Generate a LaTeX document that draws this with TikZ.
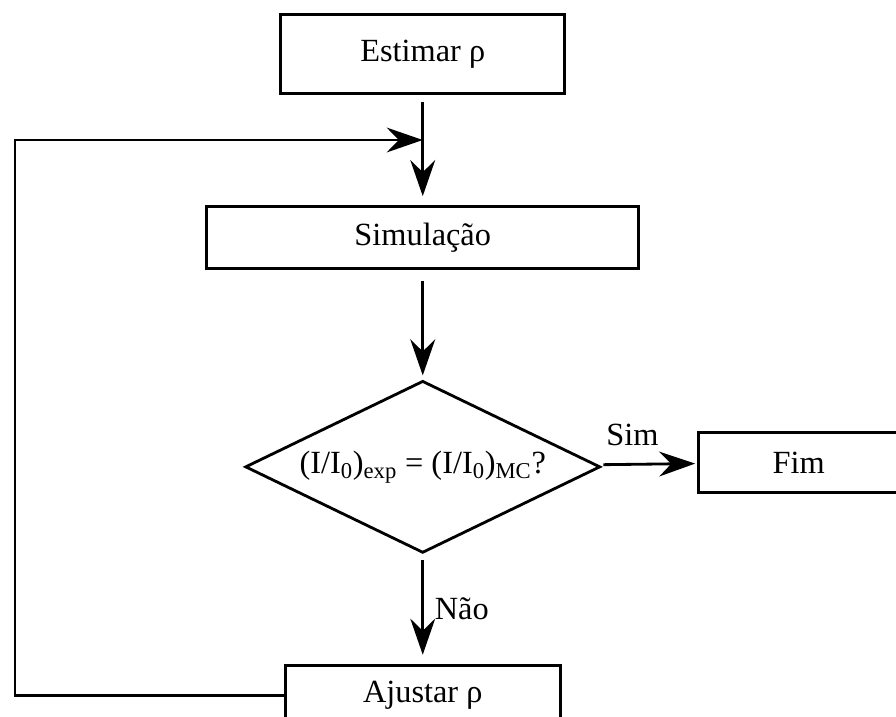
\documentclass[tikz,border=0pt]{standalone}
\usepackage{fontspec}
\setmainfont{Liberation Serif}
\usetikzlibrary{matrix, calc, arrows.meta, shapes.geometric}
\tikzset{
	box/.style 2 args={
		draw, line width=2pt, inner sep=0pt,
		minimum width=#1, minimum height=#2
	},
	decision/.style 2 args={
		draw, diamond, aspect=2.06, line width=2pt, inner sep=0pt,
		minimum width=#1, minimum height=#2
	},
	flow/.style={
		line width=2pt,
		-{Stealth[length=0.9cm, width=0.62cm, inset=0.3cm]}
	}
}

\begin{document}
\begin{tikzpicture}[x=0.025cm, y=-0.025cm, font=\fontsize{23}{28}\selectfont]
	\useasboundingbox (0,0) rectangle (896,717);
	\matrix[matrix of nodes, ampersand replacement=\&, column sep=1.425cm, row sep=2.75cm, inner sep=0pt, anchor=north west](m) at (205,13)
	{
		|[box={7.1cm}{1.975cm}]| Estimar ρ \& \\
		|[box={10.8cm}{1.55cm}]| Simulação \& \\
		|[decision={8.875cm}{4.3cm}]| (I/I\textsubscript{0})\textsubscript{exp} = (I/I\textsubscript{0})\textsubscript{MC}? \& |[box={5cm}{1.5cm}]| Fim \\
		|[box={6.875cm}{1.5cm}]| Ajustar ρ \& \\
	};
	\draw[flow]
	(m-1-1) edge[shorten <=0.175cm, shorten >=0.225cm] (m-2-1)
	(m-2-1) edge[shorten <=0.275cm, shorten >=0.1cm] (m-3-1)
	(m-3-1) edge[shorten <=0.15cm, shorten >=0.05cm] node[above=0.3cm, pos=0.35] {Sim} (m-3-2)
	(m-3-1) edge[shorten <=0.15cm, shorten >=0.225cm] node[right, xshift=0.15cm, pos=0.5] {Não} (m-4-1)
	;
	% return path
	\coordinate (turn) at (15,140);
	\coordinate (join) at (m-1-1.south |- turn);
	\draw[flow] (m-4-1.west) -| (turn) -- (join);
\end{tikzpicture}
\end{document}
